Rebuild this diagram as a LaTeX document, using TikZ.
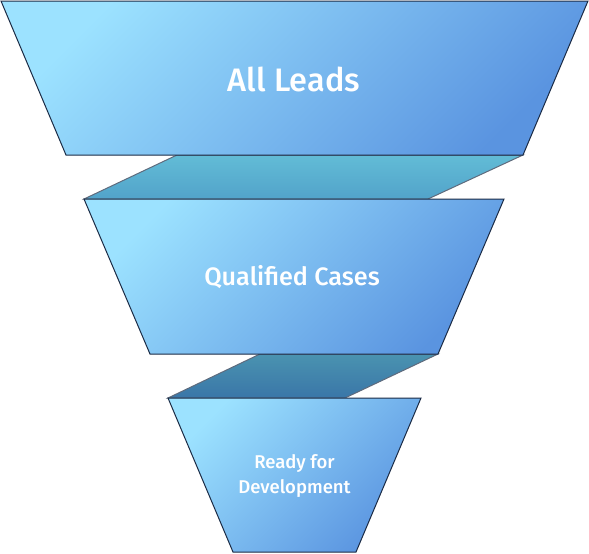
\documentclass[tikz,border=0pt]{standalone}
\usepackage{fontspec}
\setmainfont{Open Sans}
\newfontfamily\labelfont{Fira Sans Medium}
\begin{document}
\begin{tikzpicture}[x=1pt,y=-1pt,
  edge/.style={draw=navy,line width=1pt,line join=miter},
  stage/.style={edge,top color=stagelight,bottom color=stagedark,shading angle=45},
  band1/.style={edge,draw=navy!70,top color=bandAtop,bottom color=bandAbot},
  band2/.style={edge,draw=navy!70,top color=bandBtop,bottom color=bandBbot},
  lbl/.style={text=white,align=center,inner sep=0pt}]
\definecolor{navy}{HTML}{1B2B45}
\definecolor{stagelight}{HTML}{9CE2FF}
\definecolor{stagedark}{HTML}{5A94E0}
\definecolor{bandAtop}{HTML}{62BCD6}
\definecolor{bandAbot}{HTML}{52A3CA}
\definecolor{bandBtop}{HTML}{4A93B0}
\definecolor{bandBbot}{HTML}{3A76A8}
\useasboundingbox (0,0) rectangle (589,554);
% connecting bands
\shade[band1] (177,155) -- (523,155) -- (428,199) -- (84,199) -- cycle;
\shade[band2] (260,354) -- (438,354) -- (345,398) -- (168,398) -- cycle;
% stages
\shade[stage] (1,1) -- (588,1) -- (523,155) -- (66,155) -- cycle;
\shade[stage] (84,199) -- (504,199) -- (438,354) -- (150,354) -- cycle;
\shade[stage] (168,398) -- (421,398) -- (356,552) -- (233,552) -- cycle;
% labels
\node[lbl,font=\labelfont\fontsize{32.5}{38}\selectfont] (all) at (294,79) {All Leads};
\node[lbl,font=\labelfont\fontsize{25.2}{29}\selectfont] (qual) at (292,277) {Qualified Cases};
\node[lbl,font=\labelfont\fontsize{18.5}{25.5}\selectfont] (ready) at (294.5,476) {Ready for\\Development};
\end{tikzpicture}
\end{document}
